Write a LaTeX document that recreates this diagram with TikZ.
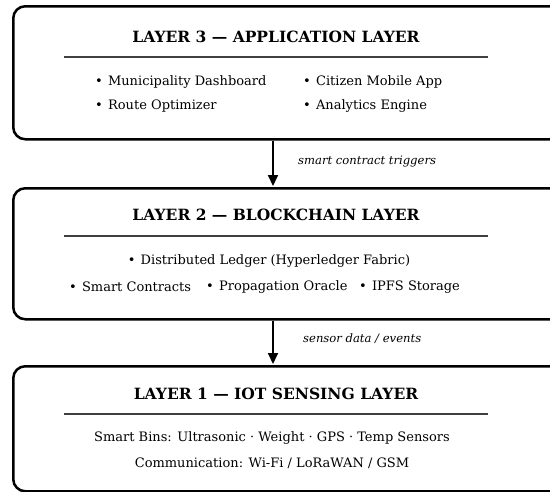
\documentclass[tikz,border=0pt]{standalone}
\usepackage{fontspec}
\setmainfont{DejaVu Serif}
\usetikzlibrary{arrows.meta,positioning,calc}
\newcommand\layeritem[1]{\textbullet\hspace{0.4em}#1}
\tikzset{
  layerbox/.style={draw,line width=2.5pt,rounded corners=12pt,minimum width=560pt,anchor=north west,inner sep=0pt},
  layertitle/.style={font=\bfseries\fontsize{15.5}{18}\selectfont,inner sep=0pt},
  layerrule/.style={line width=1.6pt,black!75},
  item/.style={font=\fontsize{13}{15}\selectfont,anchor=west,inner sep=0pt},
  itemc/.style={font=\fontsize{13}{15}\selectfont,inner sep=0pt},
  flow/.style={-{Triangle[length=11pt,width=10pt]},line width=2pt,shorten >=1pt},
  flowlabel/.style={font=\itshape\fontsize{11.6}{14}\selectfont,anchor=west,inner sep=0pt}
}
\begin{document}
\begin{tikzpicture}[x=1pt,y=-1pt]
\useasboundingbox (0,0) rectangle (550,491);
\clip (0,0) rectangle (550,491);
% layer 3
\node[layerbox,minimum height=133pt] (layerthree) at (12,5) {};
\node[layertitle] (titlethree) at (276,37) {LAYER 3 --- APPLICATION LAYER};
\coordinate (rulethreea) at (64,57);
\coordinate (rulethreeb) at (488,57);
\draw[layerrule] (rulethreea)--(rulethreeb);
\node[item] (dash) at (95,82) {\layeritem{Municipality Dashboard}};
\node[item] (mobile) at (303,82) {\layeritem{Citizen Mobile App}};
\node[item] (route) at (95,106) {\layeritem{Route Optimizer}};
\node[item] (analytics) at (303,106) {\layeritem{Analytics Engine}};
% layer 2
\node[layerbox,minimum height=131pt] (layertwo) at (12,187) {};
\node[layertitle] (titletwo) at (276,215) {LAYER 2 --- BLOCKCHAIN LAYER};
\coordinate (ruletwoa) at (64,236);
\coordinate (ruletwob) at (488,236);
\draw[layerrule] (ruletwoa)--(ruletwob);
\node[itemc] (ledger) at (269,261) {\layeritem{Distributed Ledger (Hyperledger Fabric)}};
\node[item] (contracts) at (69,287) {\layeritem{Smart Contracts}};
\node[item] (oracle) at (206,287) {\layeritem{Propagation Oracle}};
\node[item] (ipfs) at (359,287) {\layeritem{IPFS Storage}};
% layer 1
\node[layerbox,minimum height=125pt] (layerone) at (12,365) {};
\node[layertitle] (titleone) at (276,394) {LAYER 1 --- IOT SENSING LAYER};
\coordinate (ruleonea) at (64,414);
\coordinate (ruleoneb) at (488,414);
\draw[layerrule] (ruleonea)--(ruleoneb);
\node[itemc] (bins) at (272,438) {Smart Bins: Ultrasonic · Weight · GPS · Temp Sensors};
\node[itemc] (comm) at (272,463) {Communication: Wi-Fi / LoRaWAN / GSM};
% flows
\coordinate (spine) at (273,0);
\draw[flow] (spine |- layerthree.south) -- (spine |- layertwo.north);
\draw[flow] (spine |- layertwo.south) -- (spine |- layerone.north);
\node[flowlabel] (trig) at (298,162) {smart contract triggers};
\node[flowlabel] (events) at (303,339) {sensor data / events};
\end{tikzpicture}
\end{document}
